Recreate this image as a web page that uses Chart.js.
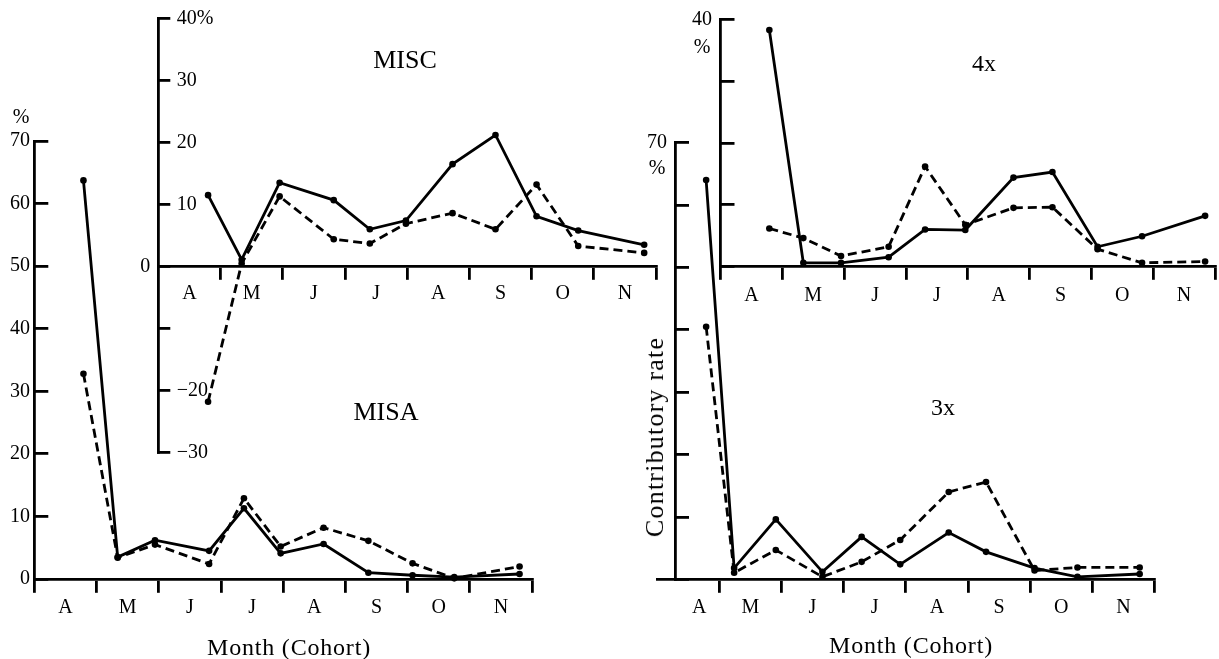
<!DOCTYPE html>
<html>
<head>
<meta charset="utf-8">
<script src="https://cdn.jsdelivr.net/npm/chart.js@4.4.1/dist/chart.umd.min.js"></script>
<style>
  html, body { margin: 0; padding: 0; background: #fff; }
  #wrap { position: relative; width: 1219px; height: 659px; overflow: hidden;
          font-family: "Liberation Serif", "DejaVu Serif", serif; color: #000; }
  #wrap canvas { position: absolute; left: 0; top: 0; }
  .lbl { position: absolute; transform: translate(-50%, -50%); white-space: nowrap; line-height: 1; }
</style>
</head>
<body>
<div id="wrap">
  <canvas id="misa" width="1219" height="659"></canvas>
  <canvas id="misc" width="1219" height="659"></canvas>
  <canvas id="x4" width="1219" height="659"></canvas>
  <canvas id="x3" width="1219" height="659"></canvas>

  <div class="lbl" style="left:21px;top:116px;font-size:20px;">%</div>
  <div class="lbl" style="left:702px;top:46px;font-size:20px;">%</div>
  <div class="lbl" style="left:657px;top:167px;font-size:20px;">%</div>
  <div class="lbl" style="left:405px;top:60px;font-size:26px;">MISC</div>
  <div class="lbl" style="left:386px;top:412px;font-size:26px;">MISA</div>
  <div class="lbl" style="left:984px;top:63px;font-size:24px;">4x</div>
  <div class="lbl" style="left:943px;top:407px;font-size:24px;">3x</div>
  <div class="lbl" style="left:289px;top:647px;font-size:24px;letter-spacing:0.8px;">Month (Cohort)</div>
  <div class="lbl" style="left:911px;top:645px;font-size:24px;letter-spacing:0.8px;">Month (Cohort)</div>
  <div class="lbl" style="left:655px;top:437px;font-size:26px;letter-spacing:1.2px;transform:translate(-50%,-50%) rotate(-90deg);">Contributory rate</div>
</div>
<script>
// month bands on every x axis, cohorts placed in month units
const months = ["A", "M", "J", "J", "A", "S", "O", "N"];
const monthEdges = [1, 2, 3, 4, 5, 6, 7, 8];
const monthMids = [0.5, 1.5, 2.5, 3.5, 4.5, 5.5, 6.5, 7.5];
const x3LabelPos = [0.68, 1.5, 2.5, 3.5, 4.5, 5.5, 6.5, 7.5];

// MISA
const misaX = [0.79, 1.34, 1.94, 2.81, 3.37, 3.96, 4.65, 5.37, 6.08, 6.75, 7.8];
const misaSolid = [63.7, 3.5, 6.2, 4.5, 11.3, 4.1, 5.6, 1.0, 0.6, 0.3, 0.8];
const misaDashed = [32.8, 3.4, 5.5, 2.4, 12.9, 5.2, 8.2, 6.1, 2.5, 0.1, 2.0];
const misaYTicks = [0, 10, 20, 30, 40, 50, 60, 70];

// MISC
const miscX = [0.8, 1.34, 1.95, 2.82, 3.4, 3.98, 4.73, 5.42, 6.08, 6.75, 7.81];
const miscSolid = [11.5, 1.1, 13.5, 10.7, 6.0, 7.4, 16.5, 21.2, 8.1, 5.8, 3.5];
const miscDashed = [-21.8, 0.5, 11.3, 4.4, 3.7, 6.9, 8.6, 6.0, 13.2, 3.3, 2.2];
const miscYTicks = [-30, -20, -10, 0, 10, 20, 30, 40];
const miscYLabels = ["\u221230", "\u221220", "", "", "10", "20", "30", "40%"];

// 4x
const x4X = [0.79, 1.34, 1.95, 2.72, 3.31, 3.96, 4.74, 5.37, 6.1, 6.82, 7.84];
const x4Solid = [38.3, 0.6, 0.6, 1.5, 6.0, 5.9, 14.4, 15.3, 3.2, 4.9, 8.2];
const x4Dashed = [6.15, 4.6, 1.7, 3.2, 16.2, 6.75, 9.5, 9.6, 2.8, 0.6, 0.8];
const x4YTicks = [0, 10, 20, 30, 40];
const x4YLabels = ["", "", "", "", "40"];

// 3x (its y axis stands a little inside the first month)
const x3X = [0.79, 1.24, 1.91, 2.66, 3.29, 3.91, 4.69, 5.29, 6.07, 6.76, 7.76];
const x3Solid = [64.0, 1.8, 9.6, 1.2, 6.8, 2.4, 7.5, 4.4, 1.8, 0.4, 0.85];
const x3Dashed = [40.5, 1.05, 4.7, 0.4, 2.8, 6.3, 14.0, 15.6, 1.4, 1.9, 1.9];
const x3YTicks = [0, 10, 20, 30, 40, 50, 60, 70];
const x3YLabels = ["", "", "", "", "", "", "", "70"];

const W = 1219, H = 659;
const LW = 2.8;
const tickFont = { family: "'Liberation Serif', 'DejaVu Serif', serif", size: 20 };

function series(xs, ys, dashed) {
  return {
    data: xs.map((x, i) => ({ x: x, y: ys[i] })),
    borderColor: "#000",
    backgroundColor: "#000",
    borderWidth: LW,
    borderDash: dashed ? [9, 5] : [],
    pointRadius: 3.3,
    pointBorderWidth: 0,
    pointBackgroundColor: "#000",
    tension: 0,
    clip: false
  };
}

function listTicks(values) {
  return (s) => { s.ticks = values.map((v) => ({ value: v })); };
}

// fixed box size, and no extra padding pushing the plot area around
function fixBox(w, h) {
  return (s) => {
    if (w !== null) s.width = w;
    if (h !== null) s.height = h;
    s.paddingTop = 0; s.paddingBottom = 0; s.paddingLeft = 0; s.paddingRight = 0;
  };
}

function labelOnly(p, opts) {
  return Object.assign({
    axis: "y", type: "linear", min: p.yMin, max: p.yMax, position: "left", weight: 1,
    afterFit: fixBox(0, null),
    afterBuildTicks: listTicks(p.yTicks),
    grid: { display: false, drawTicks: false },
    border: { display: false }
  }, opts);
}

function drawPanel(id, p) {
  const floating = p.yAt !== undefined;
  const yW = (p.mirror || floating) ? 0 : 40;
  let leftPad = p.area[0] - yW;
  const scales = {
    x: {
      type: "linear", min: 0, max: 8, position: { y: 0 },
      afterFit: fixBox(null, 0),
      afterBuildTicks: listTicks(p.xEdges),
      ticks: { display: false },
      grid: { drawOnChartArea: false, drawTicks: true, tickLength: 12, lineWidth: LW, color: "#000" },
      border: { display: true, width: LW, color: "#000" }
    },
    xl: {
      axis: "x", type: "linear", min: 0, max: 8, position: { y: 0 },
      afterFit: fixBox(null, 0),
      afterBuildTicks: listTicks(p.labelPos),
      ticks: {
        autoSkip: false, maxRotation: 0, minRotation: 0, padding: p.xPad,
        color: "#000", font: tickFont,
        callback: (v, i) => months[i]
      },
      grid: { display: false, drawTicks: false },
      border: { display: false }
    },
    y: {
      type: "linear", min: p.yMin, max: p.yMax, weight: 0,
      position: floating ? { x: p.yAt } : "left",
      afterFit: fixBox(yW, null),
      afterBuildTicks: listTicks(p.yTicks),
      ticks: {
        display: !floating,
        mirror: !!p.mirror, padding: p.yPad, color: "#000", font: tickFont,
        callback: (v, i) => p.yLabels[i]
      },
      grid: { drawOnChartArea: false, drawTicks: true, tickLength: -p.yTick, lineWidth: LW, color: "#000" },
      border: { display: true, width: LW, color: "#000" }
    }
  };
  if (p.mirror) {
    // the "0" of the mirrored axis stays on the outer side
    leftPad = p.area[0] - 20;
    scales.y0 = labelOnly(p, {
      afterFit: fixBox(20, null),
      afterBuildTicks: listTicks([0]),
      ticks: { padding: 8, color: "#000", font: tickFont, callback: () => "0" }
    });
  }
  if (floating) {
    // labels of the inner axis, written from the left edge of the plot
    scales.yl = labelOnly(p, {
      ticks: { mirror: true, padding: p.yPad, color: "#000", font: tickFont,
               callback: (v, i) => p.yLabels[i] }
    });
  }
  new Chart(document.getElementById(id), {
    type: "line",
    data: { datasets: [series(p.xs, p.solid, false), series(p.xs, p.dashed, true)] },
    options: {
      responsive: false,
      animation: false,
      events: [],
      layout: { padding: { left: leftPad, top: p.area[1], right: W - p.area[2], bottom: H - p.area[3] } },
      plugins: { legend: { display: false }, tooltip: { enabled: false } },
      scales: scales
    }
  });
}

drawPanel("misa", {
  area: [34.3, 141, 532, 579], xEdges: [0].concat(monthEdges), labelPos: monthMids, xPad: 16.5,
  xs: misaX, solid: misaSolid, dashed: misaDashed,
  yMin: 0, yMax: 70, yTicks: misaYTicks, yLabels: misaYTicks.map(String), yPad: 18.3, yTick: 14
});

drawPanel("misc", {
  area: [158.3, 18.3, 656, 452.7], xEdges: monthEdges, labelPos: monthMids, xPad: 15,
  xs: miscX, solid: miscSolid, dashed: miscDashed,
  yMin: -30, yMax: 40, yTicks: miscYTicks, yLabels: miscYLabels, yPad: 18.4, yTick: 12, mirror: true
});

drawPanel("x4", {
  area: [720.5, 19.5, 1215, 266.5], xEdges: [0].concat(monthEdges), labelPos: monthMids, xPad: 17.5,
  xs: x4X, solid: x4Solid, dashed: x4Dashed,
  yMin: 0, yMax: 40, yTicks: x4YTicks, yLabels: x4YLabels, yPad: 22.5, yTick: 14
});

drawPanel("x3", {
  area: [657, 142.7, 1154.6, 579.3], xEdges: monthEdges, labelPos: x3LabelPos, xPad: 16.7, yAt: 0.29,
  xs: x3X, solid: x3Solid, dashed: x3Dashed,
  yMin: 0, yMax: 70, yTicks: x3YTicks, yLabels: x3YLabels, yPad: -10, yTick: 15
});
</script>
</body>
</html>
